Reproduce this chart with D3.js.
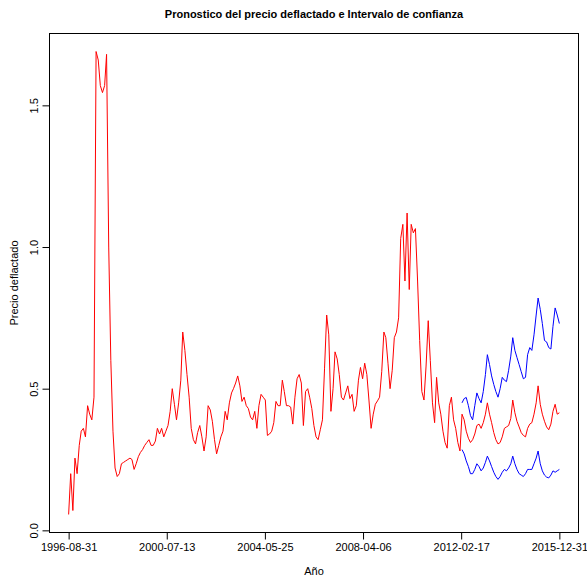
<!DOCTYPE html>
<html>
<head>
<meta charset="utf-8">
<script src="https://cdn.jsdelivr.net/npm/d3@7"></script>
<style>
  body { margin: 0; background: #fff; }
  text { font-family: "Liberation Sans", Arial, sans-serif; fill: #000; }
</style>
</head>
<body>
<svg id="chart" width="587" height="576"></svg>
<script>
// Monthly deflated price, Aug 1996 .. Jan 2012
const observed = [
  0.056, 0.20, 0.07, 0.255, 0.20, 0.30, 0.35, 0.36, 0.33, 0.44,
  0.41, 0.39, 0.47, 1.69, 1.66, 1.57, 1.545, 1.57, 1.68, 1.0,
  0.6, 0.35, 0.22, 0.19, 0.20, 0.235, 0.24, 0.245, 0.25, 0.255,
  0.25, 0.215, 0.235, 0.26, 0.275, 0.285, 0.30, 0.31, 0.32, 0.30,
  0.30, 0.315, 0.36, 0.34, 0.36, 0.33, 0.35, 0.37, 0.42, 0.50,
  0.445, 0.39, 0.45, 0.53, 0.70, 0.635, 0.55, 0.47, 0.36, 0.32,
  0.305, 0.345, 0.37, 0.33, 0.28, 0.33, 0.44, 0.425, 0.385, 0.32,
  0.27, 0.30, 0.33, 0.35, 0.42, 0.39, 0.45, 0.485, 0.50, 0.52,
  0.545, 0.51, 0.455, 0.47, 0.44, 0.43, 0.40, 0.39, 0.42, 0.36,
  0.44, 0.48, 0.47, 0.46, 0.335, 0.34, 0.35, 0.38, 0.455, 0.44,
  0.44, 0.53, 0.49, 0.44, 0.44, 0.435, 0.375, 0.47, 0.535, 0.55,
  0.52, 0.37, 0.49, 0.50, 0.47, 0.43, 0.37, 0.33, 0.32, 0.355,
  0.39, 0.57, 0.76, 0.69, 0.42, 0.50, 0.63, 0.605, 0.55, 0.47,
  0.46, 0.485, 0.51, 0.465, 0.48, 0.42, 0.44, 0.53, 0.575, 0.535,
  0.59, 0.55, 0.46, 0.36, 0.41, 0.445, 0.457, 0.47, 0.56, 0.70,
  0.68, 0.59, 0.50, 0.565, 0.68, 0.70, 0.75, 1.03, 1.08, 0.88,
  1.12, 0.85, 1.08, 1.05, 1.065, 0.88, 0.67, 0.49, 0.46, 0.58,
  0.74, 0.60, 0.45, 0.38, 0.54, 0.45, 0.41, 0.35, 0.31, 0.29,
  0.44, 0.47, 0.39, 0.36, 0.31, 0.28
];

// Forecast, Feb 2012 .. Dec 2015
const forecast = [
  0.41, 0.39, 0.35, 0.325, 0.31, 0.32, 0.34, 0.37, 0.375, 0.36,
  0.38, 0.41, 0.45, 0.41, 0.38, 0.345, 0.32, 0.305, 0.31, 0.33,
  0.36, 0.365, 0.37, 0.395, 0.46, 0.415, 0.385, 0.365, 0.345, 0.335,
  0.33, 0.36, 0.375, 0.38, 0.41, 0.45, 0.51, 0.445, 0.41, 0.385,
  0.365, 0.355, 0.375, 0.42, 0.445, 0.41, 0.415
];
const upper = [
  0.45, 0.465, 0.469, 0.44, 0.405, 0.39, 0.44, 0.485, 0.465, 0.45,
  0.49, 0.55, 0.62, 0.585, 0.545, 0.515, 0.49, 0.47, 0.50, 0.54,
  0.53, 0.525, 0.565, 0.615, 0.68, 0.635, 0.61, 0.585, 0.56, 0.535,
  0.54, 0.62, 0.645, 0.635, 0.69, 0.76, 0.82, 0.78, 0.73, 0.67,
  0.665, 0.645, 0.64, 0.72, 0.785, 0.76, 0.73
];
const lower = [
  0.285, 0.27, 0.245, 0.225, 0.20, 0.20, 0.215, 0.235, 0.225, 0.21,
  0.22, 0.24, 0.262, 0.245, 0.225, 0.205, 0.19, 0.18, 0.19, 0.205,
  0.215, 0.21, 0.22, 0.235, 0.262, 0.235, 0.215, 0.20, 0.195, 0.19,
  0.20, 0.215, 0.215, 0.215, 0.235, 0.255, 0.28, 0.235, 0.21, 0.195,
  0.188, 0.185, 0.195, 0.21, 0.205, 0.21, 0.215
];

const tickLabels = ["1996-08-31", "2000-07-13", "2004-05-25", "2008-04-06", "2012-02-17", "2015-12-31"];
const yTickValues = [0, 0.5, 1.0, 1.5];

const titleText = "Pronostico del precio deflactado e Intervalo de confianza";
const xLabel = "Año";
const yLabel = "Precio deflactado";

// month-end date for the i-th month counted from August 1996
const monthEnd = i => new Date(1996, 8 + i, 0);
const parse = d3.timeParse("%Y-%m-%d");

const hist = observed.map((v, i) => ({ date: monthEnd(i), v }));
const n0 = observed.length;
const fc = forecast.map((v, j) => ({ date: monthEnd(n0 + j), v }));
const up = upper.map((v, j) => ({ date: monthEnd(n0 + j), v }));
const lo = lower.map((v, j) => ({ date: monthEnd(n0 + j), v }));

// plot box
const box = { left: 49, right: 579, top: 33, bottom: 533 };

// axis ranges padded 4% on each side
const tDates = tickLabels.map(parse);
const t0 = +tDates[0], t1 = +tDates[tDates.length - 1];
const tPad = (t1 - t0) * 0.04;
const x = d3.scaleTime()
  .domain([new Date(t0 - tPad), new Date(t1 + tPad)])
  .range([box.left, box.right]);

const allVals = observed.concat(forecast, upper, lower);
const yMin = d3.min(allVals), yMax = d3.max(allVals);
const yPad = (yMax - yMin) * 0.04;
const y = d3.scaleLinear()
  .domain([yMin - yPad, yMax + yPad])
  .range([box.bottom, box.top]);

const svg = d3.select("#chart");

const line = d3.line().x(d => x(d.date)).y(d => y(d.v));

svg.append("path")
  .datum(hist.concat(fc))
  .attr("fill", "none")
  .attr("stroke", "#ff0000")
  .attr("stroke-width", 1)
  .attr("d", line);

svg.append("path")
  .datum(up)
  .attr("fill", "none")
  .attr("stroke", "#0000ff")
  .attr("stroke-width", 1)
  .attr("d", line);

svg.append("path")
  .datum(lo)
  .attr("fill", "none")
  .attr("stroke", "#0000ff")
  .attr("stroke-width", 1)
  .attr("d", line);

// frame
svg.append("rect")
  .attr("x", box.left + 0.5).attr("y", box.top + 0.5)
  .attr("width", box.right - box.left - 1).attr("height", box.bottom - box.top - 1)
  .attr("fill", "none").attr("stroke", "#000").attr("stroke-width", 1);

// x axis
const xAxis = d3.axisBottom(x)
  .tickValues(tDates)
  .tickFormat((d, i) => tickLabels[i])
  .tickSize(7)
  .tickPadding(4);
const gx = svg.append("g")
  .attr("transform", `translate(0,${box.bottom - 0.5})`)
  .call(xAxis);
gx.select(".domain").remove();
gx.append("line")
  .attr("x1", x(tDates[0])).attr("x2", x(tDates[tDates.length - 1]))
  .attr("stroke", "#000");
gx.selectAll("text").style("font-size", "11px").style("font-family", '"Liberation Sans", Arial, sans-serif').attr("fill", "#000");

// y axis
const yAxis = d3.axisLeft(y)
  .tickValues(yTickValues)
  .tickFormat(d3.format(".1f"))
  .tickSize(7);
const gy = svg.append("g")
  .attr("transform", `translate(${box.left + 0.5},0)`)
  .call(yAxis);
gy.select(".domain").remove();
gy.append("line")
  .attr("y1", y(yTickValues[0])).attr("y2", y(yTickValues[yTickValues.length - 1]))
  .attr("stroke", "#000");
gy.selectAll(".tick text")
  .attr("x", null).attr("dy", null)
  .attr("transform", "translate(-12,0) rotate(-90)")
  .attr("text-anchor", "middle")
  .style("font-size", "11px")
  .style("font-family", '"Liberation Sans", Arial, sans-serif')
  .attr("fill", "#000");

// title and axis labels
svg.append("text")
  .attr("x", (box.left + box.right) / 2).attr("y", 18)
  .attr("text-anchor", "middle")
  .style("font-size", "11px").style("font-weight", "bold")
  .text(titleText);

svg.append("text")
  .attr("x", (box.left + box.right) / 2).attr("y", 575)
  .attr("text-anchor", "middle")
  .style("font-size", "11px")
  .text(xLabel);

svg.append("text")
  .attr("transform", `translate(18,${(box.top + box.bottom) / 2}) rotate(-90)`)
  .attr("text-anchor", "middle")
  .style("font-size", "11px")
  .text(yLabel);
</script>
</body>
</html>
